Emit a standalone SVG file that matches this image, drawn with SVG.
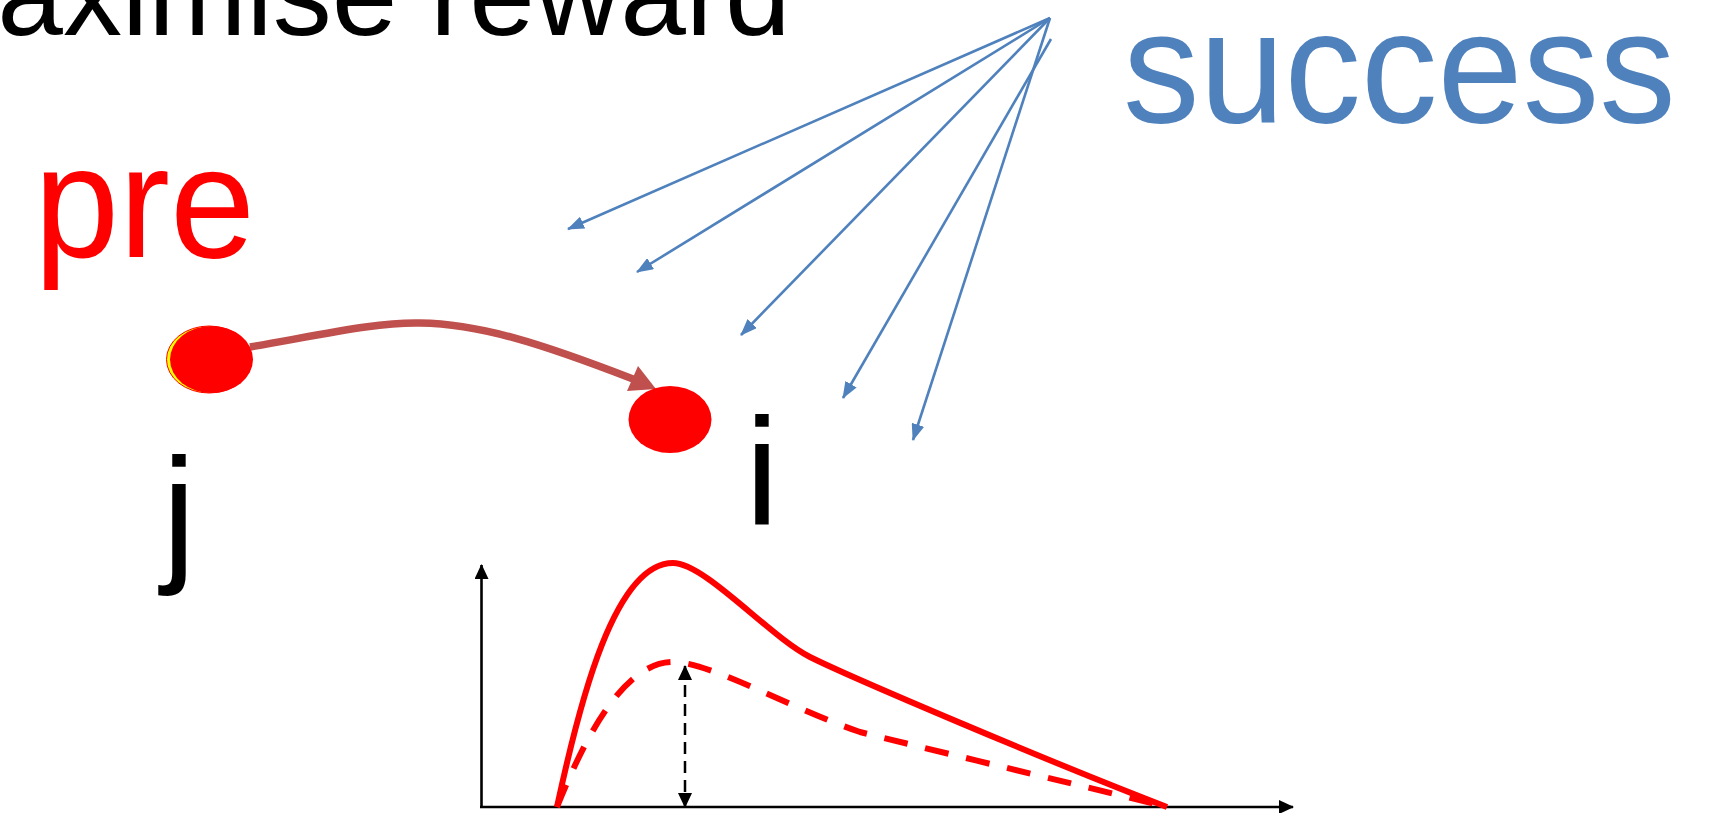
<svg xmlns="http://www.w3.org/2000/svg" width="1729" height="813" viewBox="0 0 1729 813">
<style>
  text { font-family: "Liberation Sans", Arial, sans-serif; }
  .big { font-size: 153px; }
  .blue-line { stroke: #4F81BD; stroke-width: 2.6; fill: none; }
  .axis { stroke: #000; stroke-width: 2.6; fill: none; }
  .curve { stroke: #FF0000; stroke-width: 6; fill: none; }
</style>
<defs>
  <marker id="blueHead" viewBox="0 0 17 13" markerWidth="17" markerHeight="13" refX="16" refY="6.5" orient="auto" markerUnits="userSpaceOnUse">
    <path d="M0,0 L17,6.5 L0,13 z" fill="#4F81BD"/>
  </marker>
  <marker id="blackHead" viewBox="0 0 15 14" markerWidth="15" markerHeight="14" refX="14" refY="7" orient="auto-start-reverse" markerUnits="userSpaceOnUse">
    <path d="M0,0 L15,7 L0,14 z" fill="#000"/>
  </marker>
</defs>
<rect width="1729" height="813" fill="#fff"/>

<g id="title">
  <text x="-101" y="35" font-size="118" fill="#000">maximise reward</text>
</g>
<g id="label-success">
  <text class="big" transform="translate(1123,122) scale(1,1.04)" fill="#4F81BD">success</text>
</g>
<g id="label-pre">
  <text class="big" transform="translate(34,257) scale(1,1.04)" fill="#FF0000">pre</text>
</g>

<g id="connectors">
  <line class="blue-line" x1="1050" y1="18" x2="568" y2="229" marker-end="url(#blueHead)"/>
  <line class="blue-line" x1="1050" y1="18" x2="637" y2="272" marker-end="url(#blueHead)"/>
  <line class="blue-line" x1="1050" y1="18" x2="741" y2="335" marker-end="url(#blueHead)"/>
  <line class="blue-line" x1="1051" y1="39" x2="843" y2="398" marker-end="url(#blueHead)"/>
  <line class="blue-line" x1="1050" y1="18" x2="913" y2="440" marker-end="url(#blueHead)"/>
  <path d="M250,347 C330,333 380,322 420,323 C480,324 540,343 633,379" fill="none" stroke="#C0504D" stroke-width="7.5"/>
  <polygon points="656,389 638,366 627,391" fill="#C0504D"/>
</g>

<g id="node-j">
  <ellipse cx="209" cy="359.5" rx="42.5" ry="33.5" fill="#FFFF00" stroke="#FF0000" stroke-width="1"/>
  <ellipse cx="211.5" cy="359.5" rx="41.5" ry="33.5" fill="#FF0000"/>
  <text class="big" x="162" y="564" fill="#000">j</text>
</g>
<g id="node-i">
  <ellipse cx="670" cy="419.5" rx="41.5" ry="33.5" fill="#FF0000"/>
  <text class="big" x="745" y="524" fill="#000">i</text>
</g>

<g id="chart">
  <line class="axis" x1="481.5" y1="807" x2="481.5" y2="565" marker-end="url(#blackHead)"/>
  <line class="axis" x1="480" y1="807" x2="1293" y2="807" marker-end="url(#blackHead)"/>
  <path class="curve" d="M557,807 C580,700 615,563 673,563 C705,563 770,637 810,657 C850,677 1050,762 1167,807"/>
  <path class="curve" stroke-dasharray="24 18" d="M557,807 C580,750 620,662 673,662 C710,662 790,708 860,732 C960,757 1100,790 1167,807"/>
  <line x1="685" y1="666" x2="685" y2="807" stroke="#000" stroke-width="2.5" stroke-dasharray="12 7" marker-start="url(#blackHead)" marker-end="url(#blackHead)"/>
</g>
</svg>
